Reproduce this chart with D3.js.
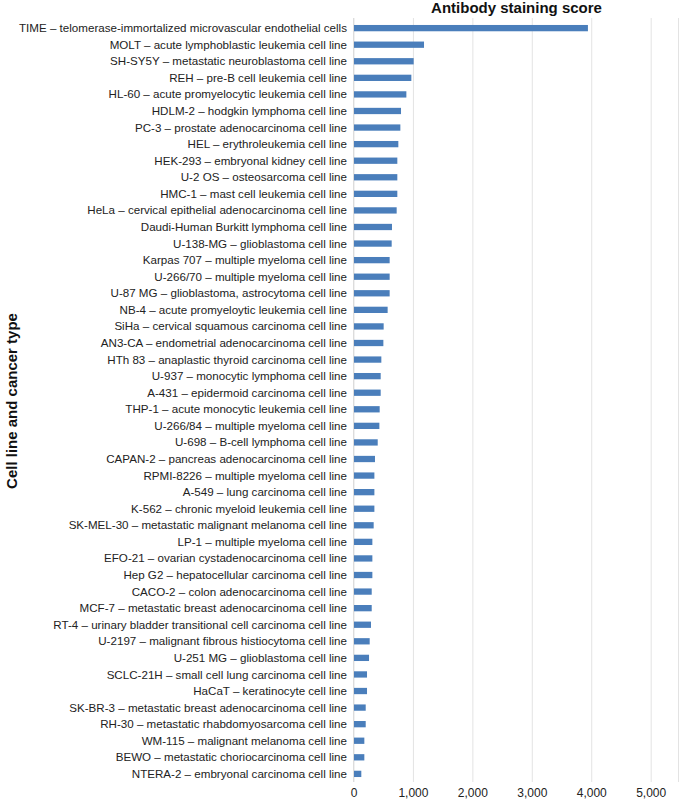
<!DOCTYPE html>
<html>
<head>
<meta charset="utf-8">
<script src="https://cdn.jsdelivr.net/npm/d3@7"></script>
<style>
  body { margin: 0; background: #fff; }
  svg { font-family: "Liberation Sans", Arial, sans-serif; }
  .grid line { stroke: #e3e3e3; }
  .grid path { display: none; }
</style>
</head>
<body>
<svg id="chart"></svg>
<script>
const cellLines = [
  "TIME – telomerase-immortalized microvascular endothelial cells",
  "MOLT – acute lymphoblastic leukemia cell line",
  "SH-SY5Y – metastatic neuroblastoma cell line",
  "REH – pre-B cell leukemia cell line",
  "HL-60 – acute promyelocytic leukemia cell line",
  "HDLM-2 – hodgkin lymphoma cell line",
  "PC-3 – prostate adenocarcinoma cell line",
  "HEL – erythroleukemia cell line",
  "HEK-293 – embryonal kidney cell line",
  "U-2 OS – osteosarcoma cell line",
  "HMC-1 – mast cell leukemia cell line",
  "HeLa – cervical epithelial adenocarcinoma cell line",
  "Daudi-Human Burkitt lymphoma cell line",
  "U-138-MG – glioblastoma cell line",
  "Karpas 707 – multiple myeloma cell line",
  "U-266/70 – multiple myeloma cell line",
  "U-87 MG – glioblastoma, astrocytoma cell line",
  "NB-4 – acute promyeloytic leukemia cell line",
  "SiHa – cervical squamous carcinoma cell line",
  "AN3-CA – endometrial adenocarcinoma cell line",
  "HTh 83 – anaplastic thyroid carcinoma cell line",
  "U-937 – monocytic lymphoma cell line",
  "A-431 – epidermoid carcinoma cell line",
  "THP-1 – acute monocytic leukemia cell line",
  "U-266/84 – multiple myeloma cell line",
  "U-698 – B-cell lymphoma cell line",
  "CAPAN-2 – pancreas adenocarcinoma cell line",
  "RPMI-8226 – multiple myeloma cell line",
  "A-549 – lung carcinoma cell line",
  "K-562 – chronic myeloid leukemia cell line",
  "SK-MEL-30 – metastatic malignant melanoma cell line",
  "LP-1 – multiple myeloma cell line",
  "EFO-21 – ovarian cystadenocarcinoma cell line",
  "Hep G2 – hepatocellular carcinoma cell line",
  "CACO-2 – colon adenocarcinoma cell line",
  "MCF-7 – metastatic breast adenocarcinoma cell line",
  "RT-4 – urinary bladder transitional cell carcinoma cell line",
  "U-2197 – malignant fibrous histiocytoma cell line",
  "U-251 MG – glioblastoma cell line",
  "SCLC-21H – small cell lung carcinoma cell line",
  "HaCaT – keratinocyte cell line",
  "SK-BR-3 – metastatic breast adenocarcinoma cell line",
  "RH-30 – metastatic rhabdomyosarcoma cell line",
  "WM-115 – malignant melanoma cell line",
  "BEWO – metastatic choriocarcinoma cell line",
  "NTERA-2 – embryonal carcinoma cell line"
];

const scores = [
  3936, 1178, 1004, 965, 881, 791, 780, 746, 729, 729,
  729, 718, 639, 634, 600, 600, 600, 566, 499, 494,
  460, 449, 449, 432, 427, 399, 353, 343, 343, 343,
  331, 309, 309, 309, 298, 298, 286, 264, 253, 219,
  219, 197, 197, 174, 174, 123
];

const xTicks = [0, 1000, 2000, 3000, 4000, 5000];

const width = 680;
const height = 800;
const plotLeft = 353.5;
const plotRight = 678;
const plotTop = 20;
const plotBottom = 782;

const svg = d3.select('#chart')
  .attr('width', width)
  .attr('height', height);

const data = cellLines.map((c, i) => ({name: c, value: scores[i]}));

const xScale = d3.scaleLinear()
  .domain([0, 5460])
  .range([plotLeft, plotRight]);

const yScale = d3.scaleBand()
  .domain(cellLines)
  .range([plotTop, plotBottom])
  .paddingInner(0.62)
  .paddingOuter(0.3);

// vertical gridlines
svg.append('g')
  .attr('class', 'grid')
  .attr('transform', `translate(0, ${plotBottom})`)
  .call(d3.axisBottom(xScale)
    .tickValues(xTicks.concat([5460]))
    .tickSize(-(plotBottom - 18))
    .tickFormat(''));

// y axis line
svg.append('line')
  .attr('x1', xScale(0)).attr('x2', xScale(0))
  .attr('y1', 18).attr('y2', plotBottom)
  .attr('stroke', '#dcdcdc');

// x tick labels
const xAxis = svg.append('g')
  .attr('transform', `translate(0, ${plotBottom})`)
  .call(d3.axisBottom(xScale)
    .tickValues(xTicks)
    .tickSize(0)
    .tickPadding(6)
    .tickFormat(d3.format(',')));
xAxis.select('.domain').remove();
xAxis.selectAll('text')
  .attr('font-size', 12)
  .attr('font-family', '"Liberation Sans", Arial, sans-serif')
  .attr('fill', '#222');

// bars
svg.selectAll('.bar')
  .data(data)
  .enter()
  .append('rect')
  .attr('class', 'bar')
  .attr('x', xScale(0) + 0.5)
  .attr('y', (d) => yScale(d.name))
  .attr('width', (d) => xScale(d.value) - xScale(0))
  .attr('height', yScale.bandwidth())
  .attr('fill', '#4a7ebb');

// category labels
svg.selectAll('.label')
  .data(data)
  .enter()
  .append('text')
  .attr('class', 'label')
  .attr('x', 347)
  .attr('y', (d) => yScale(d.name) + yScale.bandwidth() / 2)
  .attr('dy', '0.35em')
  .attr('text-anchor', 'end')
  .attr('font-size', 11.6)
  .attr('fill', '#222')
  .text((d) => d.name);

// title
svg.append('text')
  .attr('x', 516.5)
  .attr('y', 13)
  .attr('text-anchor', 'middle')
  .attr('font-size', 15)
  .attr('font-weight', 'bold')
  .attr('fill', '#111')
  .text('Antibody staining score');

// y axis title
svg.append('text')
  .attr('transform', 'translate(17, 401) rotate(-90)')
  .attr('text-anchor', 'middle')
  .attr('font-size', 15)
  .attr('font-weight', 'bold')
  .attr('fill', '#111')
  .text('Cell line and cancer type');
</script>
</body>
</html>
